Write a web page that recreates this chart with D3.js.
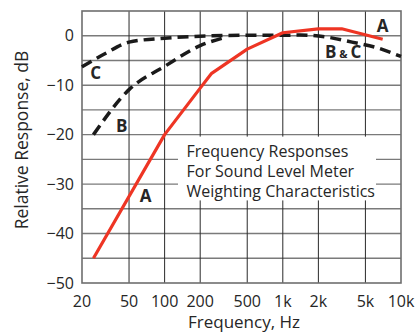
<!DOCTYPE html>
<html>
<head>
<meta charset="utf-8">
<script src="https://cdn.jsdelivr.net/npm/d3@7"></script>
<style>
  html, body { margin: 0; padding: 0; background: #fff; }
  svg { display: block; }
  text { font-family: "Open Sans", "Noto Sans", sans-serif; }
</style>
</head>
<body>
<svg id="chart" width="417" height="336"></svg>
<script>
// ---- data ----
const xTicks = [20, 50, 100, 200, 500, 1000, 2000, 5000, 10000];
const xTickLabels = ["20", "50", "100", "200", "500", "1k", "2k", "5k", "10k"];
const yTicks = [0, -10, -20, -30, -40, -50];
const yTickLabels = ["0", "\u221210", "\u221220", "\u221230", "\u221240", "\u221250"];
const yGrid = [-45, -40, -35, -30, -25, -20, -15, -10, -5, 0];

const freqA = [25, 100, 200, 250, 500, 1000, 2000, 3150, 7000];
const dbA   = [-45, -20, -10.6, -7.6, -2.7, 0.6, 1.4, 1.4, -0.7];

const freqB = [25, 50, 100, 200, 330];
const dbB   = [-20, -10.9, -6.2, -2.0, -0.3];

const freqC = [20, 31.5, 50, 100, 200, 500, 1000, 1400, 2400, 3850, 6000, 10000];
const dbC   = [-6.3, -3.6, -1.3, -0.5, -0.1, 0.1, 0.1, 0.15, -0.3, -1.3, -2.3, -4.2];

const curveLabels = [
  { text: "A", f: 69, db: -33.6 },
  { text: "A", f: 7000, db: 0.8 },
  { text: "B", f: 43.3, db: -19.4 },
  { text: "C", f: 26.1, db: -8.75 }
];
const sharedLabel = { f: 2270, db: -4.6 };
const noteLines = ["Frequency Responses", "For Sound Level Meter", "Weighting Characteristics"];

// ---- layout ----
const svg = d3.select("#chart");
const L = 82, R = 401, T = 11, B = 283;
const x = d3.scaleLog().domain([20, 10000]).range([L, R]);
const y = d3.scaleLinear().domain([-50, 5]).range([B, T]);

// horizontal grid
svg.append("g").selectAll("line").data(yGrid).join("line")
  .attr("x1", L).attr("x2", R)
  .attr("y1", d => y(d)).attr("y2", d => y(d))
  .attr("stroke", "#7a7a7a").attr("stroke-width", 1.4);

// vertical grid
svg.append("g").selectAll("line").data(xTicks.slice(1, -1)).join("line")
  .attr("x1", d => x(d)).attr("x2", d => x(d))
  .attr("y1", T).attr("y2", B)
  .attr("stroke", "#2a2a2a").attr("stroke-width", 1);

// note box (white, covers grid)
svg.append("rect")
  .attr("x", 178).attr("y", y(-20.4))
  .attr("width", 376 - 178).attr("height", y(-33.3) - y(-20.4))
  .attr("fill", "#fff");

// frame
svg.append("rect").attr("x", L).attr("y", T).attr("width", R - L).attr("height", B - T)
  .attr("fill", "none").attr("stroke", "#6e6e6e").attr("stroke-width", 1.6);

// axes tick labels
svg.append("g").selectAll("text").data(yTicks).join("text")
  .attr("x", 74).attr("y", d => y(d)).attr("dy", "0.36em")
  .attr("text-anchor", "end").attr("font-size", 16).attr("fill", "#262626")
  .text((d, i) => yTickLabels[i]);

svg.append("g").selectAll("text").data(xTicks).join("text")
  .attr("x", d => x(d)).attr("y", 306.5)
  .attr("text-anchor", "middle").attr("font-size", 16).attr("fill", "#262626")
  .text((d, i) => xTickLabels[i]);

// axis titles
svg.append("text").attr("x", 244).attr("y", 328)
  .attr("text-anchor", "middle").attr("font-size", 17).attr("fill", "#262626")
  .text("Frequency, Hz");
svg.append("text").attr("transform", "translate(28,140) rotate(-90)")
  .attr("text-anchor", "middle").attr("font-size", 17.5).attr("fill", "#262626")
  .text("Relative Response, dB");

// note text
svg.append("g").selectAll("text").data(noteLines).join("text")
  .attr("x", 186.5).attr("y", (d, i) => 156.5 + i * 20)
  .attr("font-size", 16).attr("fill", "#262626")
  .text(d => d);

// curves
const lineMono = d3.line().x(d => x(d[0])).y(d => y(d[1])).curve(d3.curveMonotoneX);
const lineLin = d3.line().x(d => x(d[0])).y(d => y(d[1]));

svg.append("path").datum(d3.zip(freqC, dbC)).attr("d", lineMono)
  .attr("fill", "none").attr("stroke", "#1a1a1a").attr("stroke-width", 3.5)
  .attr("stroke-dasharray", "11,6");
svg.append("path").datum(d3.zip(freqB, dbB)).attr("d", lineMono)
  .attr("fill", "none").attr("stroke", "#1a1a1a").attr("stroke-width", 3.5)
  .attr("stroke-dasharray", "11,6");
svg.append("path").datum(d3.zip(freqA, dbA)).attr("d", lineLin)
  .attr("fill", "none").attr("stroke", "#ee3524").attr("stroke-width", 3.2)
  .attr("stroke-linejoin", "round");

// curve labels
svg.append("g").selectAll("text").data(curveLabels).join("text")
  .attr("x", d => x(d.f)).attr("y", d => y(d.db))
  .attr("text-anchor", "middle").attr("font-size", 17).attr("font-weight", "bold")
  .attr("fill", "#262626").text(d => d.text);

const bc = svg.append("text").attr("x", x(sharedLabel.f)).attr("y", y(sharedLabel.db))
  .attr("font-weight", "bold").attr("fill", "#262626");
bc.append("tspan").attr("font-size", 17).text("B");
bc.append("tspan").attr("font-size", 11).attr("dx", 3).text("&");
bc.append("tspan").attr("font-size", 17).attr("dx", 3).text("C");
</script>
</body>
</html>
